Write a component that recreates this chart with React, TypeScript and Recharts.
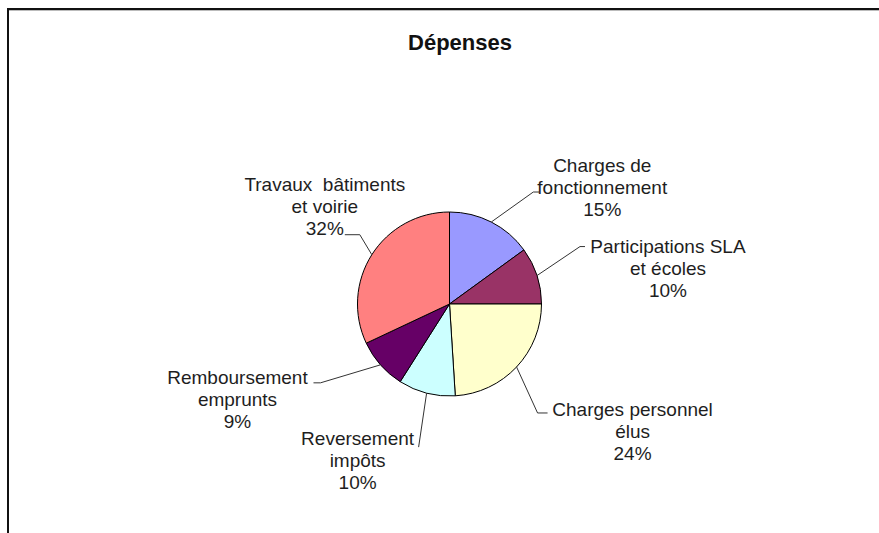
import React from "react";
import { PieChart, Pie, Cell } from "recharts";

const categories = [
  "Charges de\nfonctionnement",
  "Participations SLA\net écoles",
  "Charges personnel\nélus",
  "Reversement\nimpôts",
  "Remboursement\nemprunts",
  "Travaux  bâtiments\net voirie",
];
const values = [15, 10, 24, 10, 9, 32];
const colors = ["#9999FF", "#993366", "#FFFFCC", "#CCFFFF", "#660066", "#FF8080"];

const data = categories.map((name, i) => ({ name, value: values[i] }));

// label layout: elbow offset from slice edge, horizontal tail, text block center offset from elbow, first-line offset
const labelLayout = [
  { ex: 42, ey: -30, tail: 6, tx: 69, ty: -27 },
  { ex: 43, ey: -29, tail: 5, tx: 88, ty: 0 },
  { ex: 21, ey: 46, tail: 10, tx: 95, ty: -3 },
  { ex: -8, ey: 54, tail: 0, tx: -61, ty: -9 },
  { ex: -60, ey: 18, tail: -7, tx: -83, ty: -5 },
  { ex: -12, ey: -20, tail: -15, tx: -35, ty: -50 },
];

const RAD = Math.PI / 180;
const LINE_H = 22;

const renderLabel = (props: any) => {
  const { cx, cy, midAngle, outerRadius, index, percent } = props;
  const L = labelLayout[index];
  const x0 = cx + outerRadius * Math.cos(-midAngle * RAD);
  const y0 = cy + outerRadius * Math.sin(-midAngle * RAD);
  const x1 = x0 + L.ex;
  const y1 = y0 + L.ey;
  const x2 = x1 + L.tail;
  const lines = [...categories[index].split("\n"), `${Math.round(percent * 100)}%`];
  const tcx = x1 + L.tx;
  return (
    <g key={`lbl-${index}`}>
      <polyline
        points={`${x0},${y0} ${x1},${y1} ${x2},${y1}`}
        fill="none"
        stroke="#333"
        strokeWidth={1}
      />
      {lines.map((t, j) => (
        <text
          key={j}
          x={tcx}
          y={y1 + L.ty + j * LINE_H}
          textAnchor="middle"
          dominantBaseline="central"
          fill="#1e1e1e"
          fontFamily="'Liberation Sans', Arial, sans-serif"
          fontSize={19}
          style={{ whiteSpace: "pre" }}
        >
          {t}
        </text>
      ))}
    </g>
  );
};

export default function App() {
  return (
    <div
      style={{
        position: "absolute",
        left: 0,
        top: 0,
        width: 879,
        height: 533,
        background: "#fff",
        overflow: "hidden",
      }}
    >
      <div
        style={{
          position: "absolute",
          left: 7,
          top: 8,
          width: 950,
          height: 600,
          borderTop: "2px solid #111",
          borderLeft: "2px solid #111",
          boxShadow: "inset 0 1px 0 #bbb",
        }}
      />
      <div
        style={{
          position: "absolute",
          left: 360,
          width: 200,
          top: 30,
          textAlign: "center",
          fontFamily: "'Liberation Sans', Arial, sans-serif",
          fontWeight: "bold",
          fontSize: 22,
          color: "#111",
        }}
      >
        Dépenses
      </div>
      <div style={{ position: "absolute", left: 0, top: 0 }}>
        <PieChart width={879} height={533} margin={{ top: 0, right: 0, bottom: 0, left: 0 }}>
          <Pie
            data={data}
            dataKey="value"
            nameKey="name"
            cx={449.5}
            cy={304}
            outerRadius={92}
            startAngle={90}
            endAngle={-270}
            stroke="#000"
            strokeWidth={1}
            label={renderLabel}
            labelLine={false}
            isAnimationActive={false}
          >
            {data.map((d, i) => (
              <Cell key={d.name} fill={colors[i]} />
            ))}
          </Pie>
        </PieChart>
      </div>
    </div>
  );
}
